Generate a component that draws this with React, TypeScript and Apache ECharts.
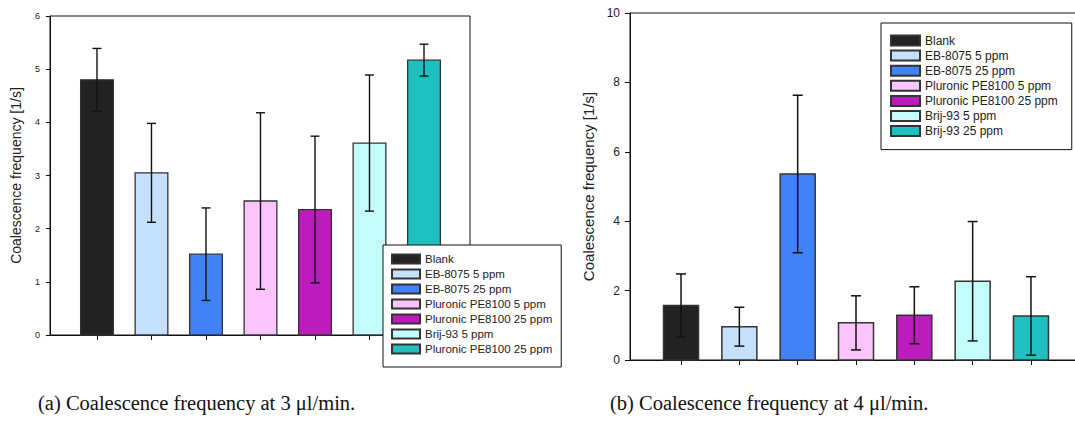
import React, { useEffect, useRef } from "react";
import * as echarts from "echarts";

// Surfactant cases, in plotting order
const seriesKeys = [
  "Blank",
  "EB-8075 5 ppm",
  "EB-8075 25 ppm",
  "Pluronic PE8100 5 ppm",
  "Pluronic PE8100 25 ppm",
  "Brij-93 5 ppm",
  "Brij-93 25 ppm",
];
const barColors = ["#222222", "#c4e0fc", "#4282f8", "#fcc4fc", "#bc1cbc", "#c4fcfc", "#20c0c0"];
const positions = [1, 2, 3, 4, 5, 6, 7];

// (a) 3 µl/min: mean coalescence frequency [1/s] and its error
const freq3 = [4.8, 3.05, 1.52, 2.52, 2.36, 3.61, 5.17];
const err3 = [0.59, 0.93, 0.87, 1.66, 1.38, 1.28, 0.3];
const legend3Labels = [
  "Blank",
  "EB-8075 5 ppm",
  "EB-8075 25 ppm",
  "Pluronic PE8100 5 ppm",
  "Pluronic PE8100 25 ppm",
  "Brij-93 5 ppm",
  "Pluronic PE8100 25 ppm",
];

// (b) 4 µl/min
const freq4 = [1.57, 0.96, 5.36, 1.07, 1.29, 2.27, 1.27];
const err4 = [0.91, 0.56, 2.27, 0.78, 0.82, 1.72, 1.13];
const legend4Labels = [
  "Blank",
  "EB-8075 5 ppm",
  "EB-8075 25 ppm",
  "Pluronic PE8100 5 ppm",
  "Pluronic PE8100 25 ppm",
  "Brij-93 5 ppm",
  "Brij-93 25 ppm",
];

const yTitle = "Coalescence frequency [1/s]";
const captionA = "(a) Coalescence frequency at 3 μl/min.";
const captionB = "(b) Coalescence frequency at 4 μl/min.";

const SANS = '"Liberation Sans", Arial, sans-serif';
const SERIF = '"Liberation Serif", "DejaVu Serif", serif';

// Bar with a symmetric error bar, all positioned via the axes' scales
function makeRenderItem(halfWidth: number, capHalf: number, borderW: number, errW: number) {
  return (params: any, api: any) => {
    const x = api.value(0);
    const v = api.value(1);
    const e = api.value(2);
    const tl = api.coord([x - halfWidth, v]);
    const br = api.coord([x + halfWidth, 0]);
    const top = api.coord([x, v + e]);
    const bot = api.coord([x, v - e]);
    const errStyle = { stroke: "#111", lineWidth: errW };
    return {
      type: "group",
      children: [
        {
          type: "rect",
          shape: { x: tl[0], y: tl[1], width: br[0] - tl[0], height: br[1] - tl[1] },
          style: { fill: api.visual("color"), stroke: "#333", lineWidth: borderW },
        },
        { type: "line", shape: { x1: top[0], y1: top[1], x2: bot[0], y2: bot[1] }, style: errStyle },
        { type: "line", shape: { x1: top[0] - capHalf, y1: top[1], x2: top[0] + capHalf, y2: top[1] }, style: errStyle },
        { type: "line", shape: { x1: bot[0] - capHalf, y1: bot[1], x2: bot[0] + capHalf, y2: bot[1] }, style: errStyle },
      ],
    };
  };
}

function buildSeries(values: number[], errors: number[], renderItem: any) {
  return seriesKeys.map((name, i) => ({
    type: "custom",
    name,
    renderItem,
    clip: false,
    z: 2,
    encode: { x: 0, y: 1 },
    itemStyle: { color: barColors[i], borderColor: "#333", borderWidth: 1.2 },
    data: [[positions[i], values[i], errors[i]]],
  }));
}

function leftOption(): any {
  return {
    animation: false,
    backgroundColor: "transparent",
    grid: {
      left: 50,
      top: 16,
      width: 420,
      height: 319,
      show: true,
      borderColor: "#111",
      borderWidth: 1,
      backgroundColor: "transparent",
    },
    xAxis: {
      type: "value",
      min: 0.138,
      max: 7.844,
      axisLine: { show: true, lineStyle: { color: "#111", width: 1 } },
      axisTick: { show: true, customValues: positions, length: 5, lineStyle: { color: "#111" } },
      axisLabel: { show: false },
      splitLine: { show: false },
    },
    yAxis: {
      type: "value",
      min: 0,
      max: 6,
      interval: 1,
      axisLine: { show: true, lineStyle: { color: "#111", width: 1 } },
      axisTick: { show: true, length: 4, lineStyle: { color: "#111" } },
      axisLabel: { fontFamily: SANS, fontSize: 9, color: "#222", margin: 10 },
      splitLine: { show: false },
      name: yTitle,
      nameLocation: "middle",
      nameGap: 27,
      nameTextStyle: { fontFamily: SANS, fontSize: 14, color: "#222" },
    },
    legend: {
      orient: "vertical",
      left: 383,
      top: 245,
      z: 10,
      data: seriesKeys,
      icon: "rect",
      itemWidth: 28,
      itemHeight: 9,
      itemGap: 3,
      padding: [8, 9, 12, 8],
      borderColor: "#111",
      borderWidth: 1,
      backgroundColor: "#fff",
      selectedMode: false,
      textStyle: { fontFamily: SANS, fontSize: 11.5, lineHeight: 11, color: "#222" },
      formatter: (name: string) => legend3Labels[seriesKeys.indexOf(name)],
    },
    graphic: [
      {
        type: "text",
        x: 38,
        y: 403,
        style: {
          text: captionA,
          font: `20.5px ${SERIF}`,
          fill: "#111",
          align: "left",
          verticalAlign: "middle",
          textAlign: "left",
          textVerticalAlign: "middle",
        },
      },
    ],
    series: buildSeries(freq3, err3, makeRenderItem(0.3, 4.5, 1.3, 1.4)),
  };
}

function rightOption(): any {
  return {
    animation: false,
    backgroundColor: "transparent",
    grid: {
      left: 70,
      top: 13,
      width: 452,
      height: 347,
      show: true,
      borderColor: "#111",
      borderWidth: 1,
      backgroundColor: "transparent",
    },
    xAxis: {
      type: "value",
      min: 0.125,
      max: 7.875,
      axisLine: { show: true, lineStyle: { color: "#111", width: 1 } },
      axisTick: { show: true, customValues: positions, length: 5, lineStyle: { color: "#111" } },
      axisLabel: { show: false },
      splitLine: { show: false },
    },
    yAxis: {
      type: "value",
      min: 0,
      max: 10,
      interval: 2,
      axisLine: { show: true, lineStyle: { color: "#111", width: 1 } },
      axisTick: { show: true, length: 5, lineStyle: { color: "#111" } },
      axisLabel: { fontFamily: SANS, fontSize: 12, color: "#222", margin: 10 },
      splitLine: { show: false },
      name: yTitle,
      nameLocation: "middle",
      nameGap: 33,
      nameTextStyle: { fontFamily: SANS, fontSize: 15, color: "#222" },
    },
    legend: {
      orient: "vertical",
      left: 321,
      top: 23,
      z: 10,
      data: seriesKeys,
      icon: "rect",
      itemWidth: 29,
      itemHeight: 10,
      itemGap: 3.1,
      padding: [11.5, 14, 12.5, 9],
      borderColor: "#111",
      borderWidth: 1,
      backgroundColor: "#fff",
      selectedMode: false,
      textStyle: { fontFamily: SANS, fontSize: 12, lineHeight: 12, color: "#222" },
      formatter: (name: string) => legend4Labels[seriesKeys.indexOf(name)],
    },
    graphic: [
      {
        type: "text",
        x: 50,
        y: 403,
        style: {
          text: captionB,
          font: `20.5px ${SERIF}`,
          fill: "#111",
          align: "left",
          verticalAlign: "middle",
          textAlign: "left",
          textVerticalAlign: "middle",
        },
      },
    ],
    series: buildSeries(freq4, err4, makeRenderItem(0.3, 5, 1.5, 1.5)),
  };
}

export default function App() {
  const leftRef = useRef<HTMLDivElement>(null);
  const rightRef = useRef<HTMLDivElement>(null);

  useEffect(() => {
    const left = echarts.init(leftRef.current!, null, { renderer: "svg" });
    const right = echarts.init(rightRef.current!, null, { renderer: "svg" });
    left.setOption(leftOption());
    right.setOption(rightOption());
    return () => {
      left.dispose();
      right.dispose();
    };
  }, []);

  return (
    <div
      style={{
        position: "absolute",
        left: 0,
        top: 0,
        width: 1075,
        height: 423,
        overflow: "hidden",
        background: "#fff",
      }}
    >
      <div ref={leftRef} style={{ position: "absolute", left: 0, top: 0, width: 620, height: 423 }} />
      <div ref={rightRef} style={{ position: "absolute", left: 560, top: 0, width: 540, height: 423 }} />
    </div>
  );
}
